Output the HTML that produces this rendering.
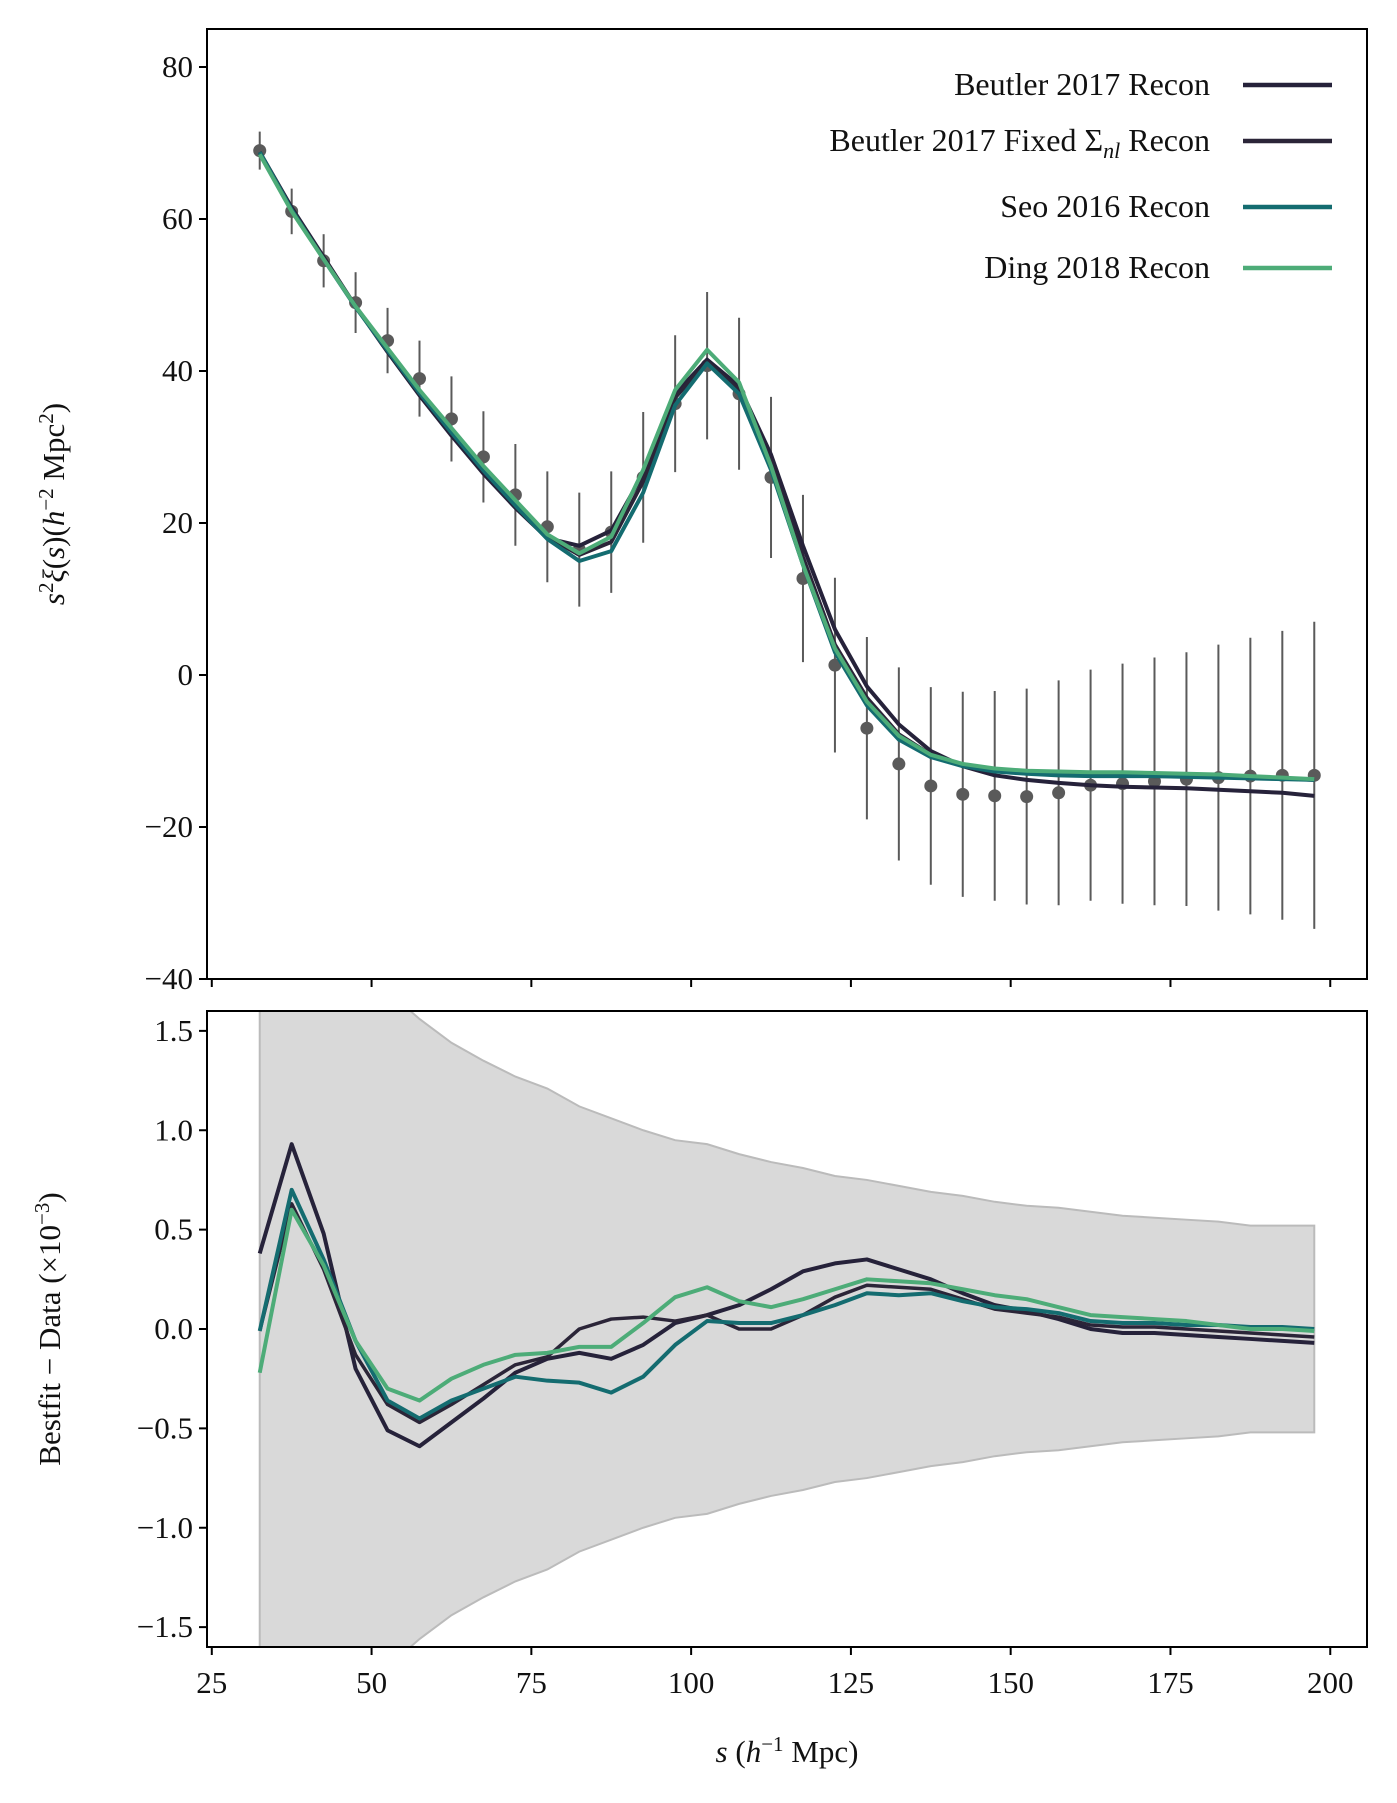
<!DOCTYPE html>
<html><head><meta charset="utf-8"><style>
html,body{margin:0;padding:0;background:#fff;overflow:hidden;width:1397px;height:1803px;}
svg{display:block;}
svg text{font-family:"Liberation Serif",serif;fill:#111;}
</style></head><body>
<svg id="c" width="1397" height="1803" xmlns="http://www.w3.org/2000/svg"></svg>
<script>
const sVals=[32.5,37.5,42.5,47.5,52.5,57.5,62.5,67.5,72.5,77.5,82.5,87.5,92.5,97.5,102.5,107.5,112.5,117.5,122.5,127.5,132.5,137.5,142.5,147.5,152.5,157.5,162.5,167.5,172.5,177.5,182.5,187.5,192.5,197.5];
const dataVals=[69,61,54.5,49,44,39,33.7,28.7,23.7,19.5,16.5,18.8,26,35.7,40.7,37,26,12.7,1.3,-7,-11.7,-14.6,-15.7,-15.9,-16,-15.5,-14.5,-14.3,-14,-13.7,-13.5,-13.3,-13.2,-13.2];
const dataErr=[2.5,3,3.5,4,4.3,5,5.6,6,6.7,7.3,7.5,8,8.6,9,9.7,10,10.6,11,11.5,12,12.7,13,13.5,13.8,14.2,14.8,15.2,15.8,16.3,16.7,17.5,18.2,19,20.2];
const beutler=[68.8,61.5,55,48.5,42.5,36.8,31.5,26.5,22,18,17,19,26.5,37,41.5,38,29,17,6,-1.5,-6.5,-10,-12,-13.2,-13.8,-14.2,-14.5,-14.7,-14.8,-14.9,-15.1,-15.3,-15.5,-15.9];
const fixedV=[68.8,61.3,54.8,48.5,42.8,37.2,32,27,22.5,18.2,15.8,17.5,25.5,36.5,41.2,37.5,28,15.5,4,-3,-7.8,-10.5,-11.9,-12.6,-12.9,-13.1,-13.2,-13.2,-13.3,-13.3,-13.4,-13.5,-13.6,-13.8];
const seo=[68.8,61.2,54.7,48.4,42.7,37.1,31.9,26.9,22.3,17.9,15,16.3,24,35.5,41,37,27,14.5,3,-4,-8.5,-10.8,-12,-12.7,-13,-13.2,-13.3,-13.3,-13.3,-13.4,-13.5,-13.6,-13.7,-13.8];
const ding=[68.5,61,54.7,48.5,43,37.5,32.5,27.5,23,18.5,16,18.2,27,37.5,42.8,38.5,27.5,14.5,3.5,-3.5,-8,-10.5,-11.7,-12.3,-12.6,-12.7,-12.8,-12.8,-12.9,-13,-13.1,-13.3,-13.5,-13.7];
const resBeutler=[0.38,0.93,0.48,-0.2,-0.51,-0.59,-0.47,-0.35,-0.22,-0.15,-0.12,-0.15,-0.08,0.03,0.07,0.12,0.2,0.29,0.33,0.35,0.3,0.25,0.18,0.12,0.09,0.05,0,-0.02,-0.02,-0.03,-0.04,-0.05,-0.06,-0.07];
const resFixed=[-0.01,0.63,0.3,-0.13,-0.38,-0.47,-0.38,-0.28,-0.18,-0.14,0.0,0.05,0.06,0.04,0.07,0.0,0.0,0.07,0.16,0.22,0.21,0.2,0.15,0.1,0.08,0.06,0.02,0.01,0.01,0.0,-0.01,-0.02,-0.03,-0.04];
const resSeo=[-0.01,0.7,0.35,-0.06,-0.36,-0.45,-0.36,-0.3,-0.24,-0.26,-0.27,-0.32,-0.24,-0.08,0.04,0.03,0.03,0.07,0.12,0.18,0.17,0.18,0.14,0.11,0.1,0.08,0.04,0.03,0.03,0.02,0.02,0.01,0.01,0.0];
const resDing=[-0.22,0.6,0.32,-0.06,-0.3,-0.36,-0.25,-0.18,-0.13,-0.12,-0.09,-0.09,0.03,0.16,0.21,0.14,0.11,0.15,0.2,0.25,0.24,0.23,0.2,0.17,0.15,0.11,0.07,0.06,0.05,0.04,0.02,0.0,0.0,-0.01];
const band=[10,3,2.4,1.9,1.7,1.56,1.44,1.35,1.27,1.21,1.12,1.06,1.0,0.95,0.93,0.88,0.84,0.81,0.77,0.75,0.72,0.69,0.67,0.64,0.62,0.61,0.59,0.57,0.56,0.55,0.54,0.52,0.52,0.52];
const xTicks=[25,50,75,100,125,150,175,200];
const yTicksTop=[-40,-20,0,20,40,60,80];
const yTicksBot=[-1.5,-1.0,-0.5,0.0,0.5,1.0,1.5];

const NS="http://www.w3.org/2000/svg";
const svg=document.getElementById('c');
function mk(tag,attrs,parent){const e=document.createElementNS(NS,tag);for(const k in attrs)e.setAttribute(k,attrs[k]);(parent||svg).appendChild(e);return e;}
const L=207,R=1367,T1=29,B1=979,T2=1011,B2=1647;
const xmin=24.25,xmax=205.75;
const X=v=>L+(v-xmin)/(xmax-xmin)*(R-L);
const Y1=v=>T1+(85-v)/(125)*(B1-T1);
const Y2=v=>T2+(1.6-v)/(3.2)*(B2-T2);
const defs=mk('defs',{});
const cp1=mk('clipPath',{id:'cp1'},defs);mk('rect',{x:L,y:T1,width:R-L,height:B1-T1},cp1);
const cp2=mk('clipPath',{id:'cp2'},defs);mk('rect',{x:L,y:T2,width:R-L,height:B2-T2},cp2);
const colors={b:'#26223a',f:'#2b2538',s:'#146c70',d:'#4dac78'};
function line(arr,Y,col,g,name,w){const p=mk('polyline',{points:arr.map((v,i)=>X(sVals[i])+','+Y(v)).join(' '),fill:'none',stroke:col,'stroke-width':w,'stroke-linejoin':'round'},g);

}
const g1=mk('g',{'clip-path':'url(#cp1)'});


sVals.forEach((s,i)=>{
 const e=mk('line',{x1:X(s),x2:X(s),y1:Y1(dataVals[i]+dataErr[i]),y2:Y1(dataVals[i]-dataErr[i]),stroke:'#5a5a5a','stroke-width':2},g1);
 
 
 const c=mk('circle',{cx:X(s),cy:Y1(dataVals[i]),r:6.5,fill:'#5a5a5a'},g1);
 
 
});
line(beutler,Y1,colors.b,g1,'beutler-line',4);
line(fixedV,Y1,colors.f,g1,'beutler-fixed-line',4);
line(seo,Y1,colors.s,g1,'seo-line',4);
line(ding,Y1,colors.d,g1,'ding-line',4);
const g2=mk('g',{'clip-path':'url(#cp2)'});


const up=sVals.map((s,i)=>X(s)+','+Y2(band[i])),dn=sVals.map((s,i)=>X(s)+','+Y2(-band[i])).reverse();
const bp=mk('polygon',{points:up.concat(dn).join(' '),fill:'#d9d9d9',stroke:'#bbbbbb','stroke-width':2},g2);


line(resBeutler,Y2,colors.b,g2,'beutler-residual',4);
line(resFixed,Y2,colors.f,g2,'beutler-fixed-residual',3.5);
line(resSeo,Y2,colors.s,g2,'seo-residual',4);
line(resDing,Y2,colors.d,g2,'ding-residual',4);
[[T1,B1],[T2,B2]].forEach(([t,b],k)=>{const r=mk('rect',{x:L,y:t,width:R-L,height:b-t,fill:'none',stroke:'#000','stroke-width':2});

});
yTicksTop.forEach(v=>{const y=Y1(v);mk('line',{x1:L-8,x2:L,y1:y,y2:y,stroke:'#000','stroke-width':2});
const t=mk('text',{x:L-14,y:y+10,'text-anchor':'end','font-size':31});t.textContent=v<0?'\u2212'+(-v):String(v);

});
yTicksBot.forEach(v=>{const y=Y2(v);mk('line',{x1:L-8,x2:L,y1:y,y2:y,stroke:'#000','stroke-width':2});
const t=mk('text',{x:L-14,y:y+10,'text-anchor':'end','font-size':31});t.textContent=(v<0?'\u2212':'')+Math.abs(v).toFixed(1);

});
xTicks.forEach(v=>{const x=X(v);mk('line',{x1:x,x2:x,y1:B1,y2:B1+8,stroke:'#000','stroke-width':2});mk('line',{x1:x,x2:x,y1:B2,y2:B2+8,stroke:'#000','stroke-width':2});
const t=mk('text',{x:x,y:B2+46,'text-anchor':'middle','font-size':31});t.textContent=v;

});
let t=mk('text',{x:0,y:0,'text-anchor':'middle','font-size':31,transform:`translate(64,${(T1+B1)/2}) rotate(-90)`});
t.innerHTML='<tspan font-style="italic">s</tspan><tspan dy="-11" font-size="21">2</tspan><tspan dy="11" font-style="italic">ξ</tspan>(<tspan font-style="italic">s</tspan>)(<tspan font-style="italic">h</tspan><tspan dy="-11" font-size="21">−2</tspan><tspan dy="11"> Mpc</tspan><tspan dy="-11" font-size="21">2</tspan><tspan dy="11">)</tspan>';


t=mk('text',{x:0,y:0,'text-anchor':'middle','font-size':31,transform:`translate(60,${(T2+B2)/2}) rotate(-90)`});
t.innerHTML='Bestfit − Data (×10<tspan dy="-11" font-size="21">−3</tspan><tspan dy="11">)</tspan>';


t=mk('text',{x:(L+R)/2,y:1762,'text-anchor':'middle','font-size':31});
t.innerHTML='<tspan font-style="italic">s</tspan> (<tspan font-style="italic">h</tspan><tspan dy="-11" font-size="21">−1</tspan><tspan dy="11"> Mpc)</tspan>';


const legNames=['Beutler 2017 Recon','Beutler 2017 Fixed Σ<tspan font-style="italic" font-size="22" dy="7">nl</tspan><tspan dy="-7"> Recon</tspan>','Seo 2016 Recon','Ding 2018 Recon'];
const legCols=[colors.b,colors.f,colors.s,colors.d];
const legY=[85,141,207,268];
legNames.forEach((n,i)=>{
 const tt=mk('text',{x:1210,y:legY[i]+10,'text-anchor':'end','font-size':32});tt.innerHTML=n;
 
 
 const ll=mk('line',{x1:1243,x2:1332,y1:legY[i],y2:legY[i],stroke:legCols[i],'stroke-width':4.5});
 
 
});
</script>
</body></html>
